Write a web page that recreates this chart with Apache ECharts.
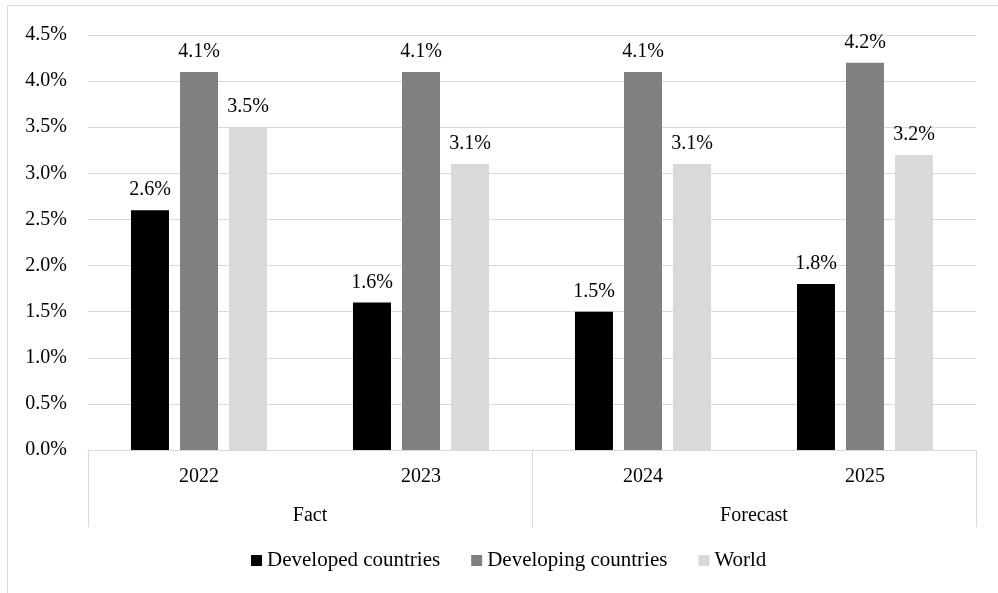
<!DOCTYPE html>
<html>
<head>
<meta charset="utf-8">
<script src="https://cdn.jsdelivr.net/npm/echarts@6/dist/echarts.min.js"></script>
<style>
  html, body { margin: 0; padding: 0; background: #fff; }
  #chart { width: 998px; height: 593px; }
</style>
</head>
<body>
<div id="chart"></div>
<script>
// Growth rates, percent
const years = ['2022', '2023', '2024', '2025'];
const periods = ['Fact', 'Forecast'];
const developed = [2.6, 1.6, 1.5, 1.8];
const developing = [4.1, 4.1, 4.1, 4.2];
const world = [3.5, 3.1, 3.1, 3.2];

const FONT = 'Liberation Serif';
const TEXT = '#000';
const LINE = '#d9d9d9';

const pct = v => v.toFixed(1) + '%';

function barSeries(name, data, color) {
  return {
    name: name,
    type: 'bar',
    data: data,
    barWidth: 38,
    barGap: '29%',
    itemStyle: { color: color },
    label: {
      show: true,
      position: 'top',
      distance: 10,
      formatter: p => pct(p.value),
      color: TEXT,
      fontFamily: FONT,
      fontSize: 20
    },
    emphasis: { disabled: true }
  };
}

const chart = echarts.init(document.getElementById('chart'));
chart.setOption({
  animation: false,
  textStyle: { fontFamily: FONT },
  grid: { left: 88, right: 22, top: 35, bottom: 143 },
  graphic: [{
    type: 'rect',
    shape: { x: 7.5, y: 5.5, width: 1000, height: 600 },
    style: { fill: 'none', stroke: LINE, lineWidth: 1 },
    silent: true
  }],
  legend: {
    left: 251,
    top: 550,
    padding: 0,
    itemWidth: 11,
    itemHeight: 11,
    itemGap: 31,
    icon: 'rect',
    textStyle: { color: TEXT, fontFamily: FONT, fontSize: 21 },
    data: ['Developed countries', 'Developing countries', 'World']
  },
  xAxis: [{
    type: 'category',
    data: years,
    position: 'bottom',
    axisLine: { lineStyle: { color: LINE, width: 1 } },
    axisTick: { show: false },
    axisLabel: { color: TEXT, fontFamily: FONT, fontSize: 20, margin: 17 }
  }, {
    type: 'category',
    data: periods,
    position: 'bottom',
    axisLine: { show: false },
    axisTick: { show: true, length: 77, interval: 0, lineStyle: { color: LINE, width: 1 } },
    axisLabel: { color: TEXT, fontFamily: FONT, fontSize: 20, margin: 56 },
    splitLine: { show: false }
  }],
  yAxis: {
    type: 'value',
    min: 0,
    max: 4.5,
    interval: 0.5,
    axisLine: { show: false },
    axisTick: { show: false },
    splitLine: { lineStyle: { color: LINE, width: 1 } },
    axisLabel: {
      color: TEXT, fontFamily: FONT, fontSize: 20, margin: 21,
      padding: [6, 0, 0, 0],
      formatter: v => pct(v)
    }
  },
  series: [
    barSeries('Developed countries', developed, '#000000'),
    barSeries('Developing countries', developing, '#808080'),
    barSeries('World', world, '#d9d9d9')
  ]
});
</script>
</body>
</html>
